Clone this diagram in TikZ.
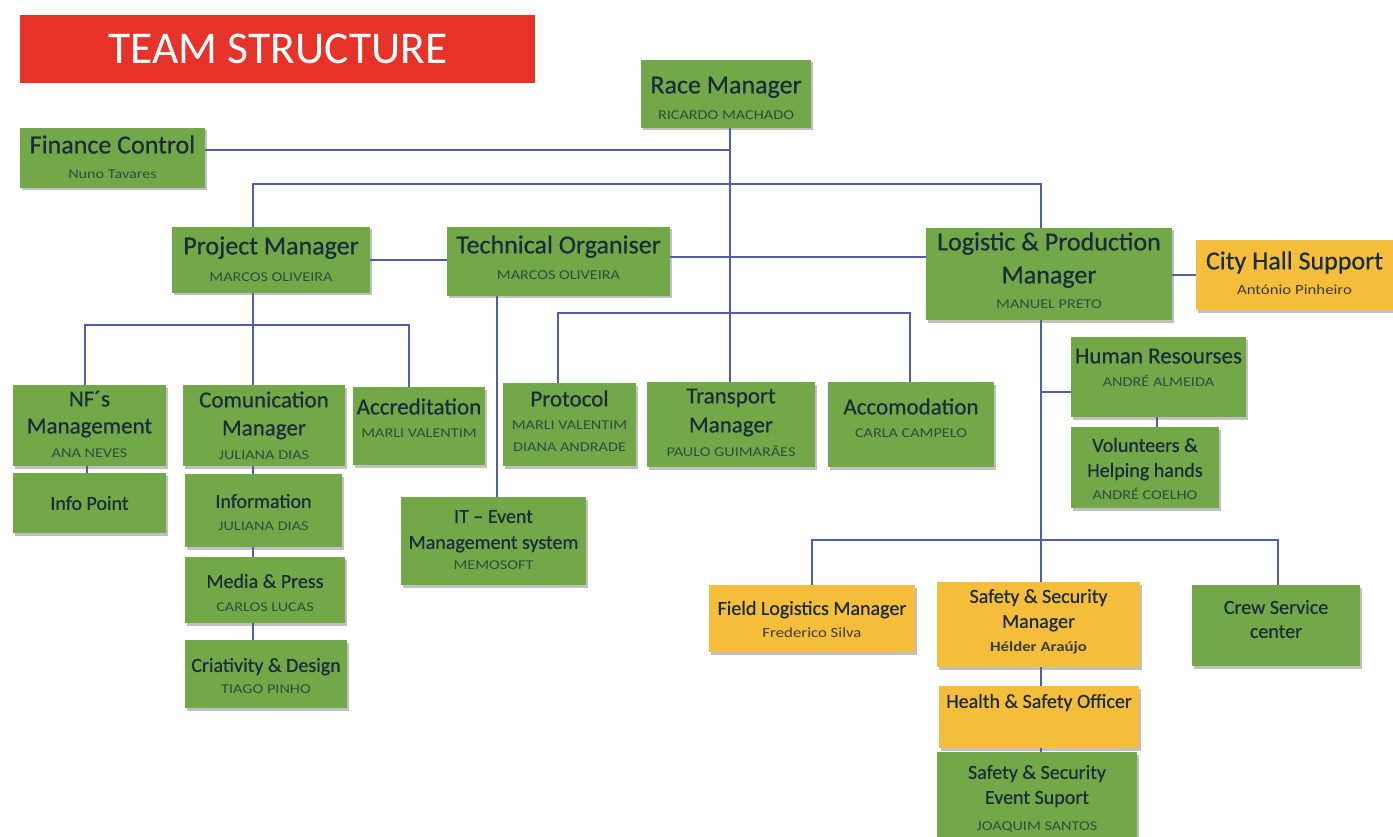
\documentclass[tikz,border=0pt]{standalone}
\usepackage{fontspec}
\setmainfont{Carlito}
\newfontfamily\titlefont[FakeBold=0.5]{Carlito}
\newfontfamily\namefont[FakeStretch=1.2]{Carlito}
\usetikzlibrary{shadows}
\definecolor{boxgreen}{RGB}{114,168,72}
\definecolor{boxorange}{RGB}{244,190,58}
\definecolor{titlered}{RGB}{230,50,40}
\definecolor{txtdark}{RGB}{26,44,60}
\definecolor{namec}{RGB}{50,76,66}
\definecolor{linec}{RGB}{82,92,178}
\newcommand\bx[6]{\node[#2, minimum width={(#5)-(#3)}, minimum height={(#6)-(#4)}] (#1) at ({((#3)+(#5))/2},{((#4)+(#6))/2}) {};}
\tikzset{
  boxbase/.style={rectangle, draw=none, inner sep=0pt,
    drop shadow={shadow xshift=2pt, shadow yshift=-2.5pt, opacity=0.35, fill=black!70}},
  gbox/.style={boxbase, fill=boxgreen},
  obox/.style={boxbase, fill=boxorange},
  tA/.style={font=\titlefont\fontsize{26}{30}\selectfont, text=txtdark, anchor=mid, inner sep=0pt, yshift=-4pt},
  tB/.style={font=\titlefont\fontsize{23}{27}\selectfont, text=txtdark, anchor=mid, inner sep=0pt, yshift=-4pt},
  tC/.style={font=\titlefont\fontsize{20}{23}\selectfont, text=txtdark, anchor=mid, inner sep=0pt, yshift=-3.5pt},
  nm/.style={font=\namefont\fontsize{13.5}{16}\selectfont, text=namec, anchor=mid, inner sep=0pt, yshift=-3pt},
  nmo/.style={font=\namefont\fontsize{14}{16}\selectfont, text=txtdark!80!brown, anchor=mid, inner sep=0pt, yshift=-3pt},
  conn/.style={draw=linec, line width=1.1pt},
}
\begin{document}
\begin{tikzpicture}[x=1pt,y=-1pt]
\fill[white] (0,0) rectangle (1393,837);
\useasboundingbox (0,0) rectangle (1393,837);

% title
\node[rectangle, fill=titlered, minimum width=515, minimum height=68, inner sep=0pt] (title) at (277.5,49) {};
\node[font=\fontsize{45.5}{50}\selectfont, text=white, inner sep=0pt] (titlet) at (278,49) {TEAM STRUCTURE};

% boxes
\bx{rm}{gbox}{641}{60}{811}{128}
\bx{fin}{gbox}{20}{128}{205}{188}
\bx{pm}{gbox}{172}{227}{370}{293}
\bx{to}{gbox}{447}{227}{670}{296}
\bx{lpm}{gbox}{926}{228}{1172}{320}
\bx{ch}{obox}{1196}{240}{1393}{310}
\bx{nf}{gbox}{13}{385}{166}{466}
\bx{ip}{gbox}{13}{473}{166}{533}
\bx{com}{gbox}{183}{385}{345}{466}
\bx{inf}{gbox}{185}{474}{342}{547}
\bx{mp}{gbox}{185}{557}{345}{623}
\bx{cd}{gbox}{185}{640}{347}{708}
\bx{acc}{gbox}{353}{387}{485}{465}
\bx{it}{gbox}{401}{497}{586}{585}
\bx{pro}{gbox}{503}{383}{636}{466}
\bx{tm}{gbox}{647}{382}{815}{467}
\bx{aco}{gbox}{828}{382}{994}{467}
\bx{hr}{gbox}{1071}{337}{1246}{417}
\bx{vol}{gbox}{1071}{427}{1219}{508}
\bx{fl}{obox}{709}{585}{915}{652}
\bx{ssm}{obox}{937}{582}{1140}{667}
\bx{hso}{obox}{939}{686}{1139}{748}
\bx{sse}{gbox}{937}{752}{1137}{837}
\bx{crew}{gbox}{1192}{585}{1360}{666}

% texts
\node[tA] (rm-a) at (726,87) {Race Manager};
\node[nm] (rm-b) at (726,114) {RICARDO MACHADO};
\node[tA] (fin-a) at (112.5,147) {Finance Control};
\node[nm] (fin-b) at (112.5,173) {Nuno Tavares};
\node[tA] (pm-a) at (271,248) {Project Manager};
\node[nm] (pm-b) at (271,276) {MARCOS OLIVEIRA};
\node[tA] (to-a) at (558.5,247) {Technical Organiser};
\node[nm] (to-b) at (558.5,274) {MARCOS OLIVEIRA};
\node[tA] (lpm-a) at (1049,244) {Logistic \& Production};
\node[tA] (lpm-b) at (1049,277) {Manager};
\node[nm] (lpm-c) at (1049,303) {MANUEL PRETO};
\node[tA] (ch-a) at (1294.5,263) {City Hall Support};
\node[nmo] (ch-b) at (1294.5,289) {António Pinheiro};

\node[tB] (nf-a) at (89.5,400) {NF´s};
\node[tB] (nf-b) at (89.5,427) {Management};
\node[nm] (nf-c) at (89.5,452) {ANA NEVES};
\node[tC] (ip-a) at (89.5,504) {Info Point};
\node[tB] (com-a) at (264,401) {Comunication};
\node[tB] (com-b) at (264,429) {Manager};
\node[nm] (com-c) at (264,454) {JULIANA DIAS};
\node[tC] (inf-a) at (263.5,502) {Information};
\node[nm] (inf-b) at (263.5,525) {JULIANA DIAS};
\node[tC] (mp-a) at (265,582) {Media \& Press};
\node[nm] (mp-b) at (265,606) {CARLOS LUCAS};
\node[tC] (cd-a) at (266,666) {Criativity \& Design};
\node[nm] (cd-b) at (266,688) {TIAGO PINHO};
\node[tB] (acc-a) at (419,408) {Accreditation};
\node[nm] (acc-b) at (419,432) {MARLI VALENTIM};
\node[tC] (it-a) at (493.5,517) {IT – Event};
\node[tC] (it-b) at (493.5,543) {Management system};
\node[nm] (it-c) at (493.5,564) {MEMOSOFT};
\node[tB] (pro-a) at (569.5,400) {Protocol};
\node[nm] (pro-b) at (569.5,424) {MARLI VALENTIM};
\node[nm] (pro-c) at (569.5,446) {DIANA ANDRADE};
\node[tB] (tm-a) at (731,397) {Transport};
\node[tB] (tm-b) at (731,426) {Manager};
\node[nm] (tm-c) at (731,451) {PAULO GUIMARÃES};
\node[tB] (aco-a) at (911,408) {Accomodation};
\node[nm] (aco-b) at (911,432) {CARLA CAMPELO};
\node[tB] (hr-a) at (1158.5,357) {Human Resourses};
\node[nm] (hr-b) at (1158.5,381) {ANDRÉ ALMEIDA};
\node[tC] (vol-a) at (1145,446) {Volunteers \&};
\node[tC] (vol-b) at (1145,471) {Helping hands};
\node[nm] (vol-c) at (1145,494) {ANDRÉ COELHO};
\node[tC] (fl-a) at (812,609) {Field Logistics Manager};
\node[nmo] (fl-b) at (812,632) {Frederico Silva};
\node[tC] (ssm-a) at (1038.5,597) {Safety \& Security};
\node[tC] (ssm-b) at (1038.5,622) {Manager};
\node[nmo, font=\namefont\bfseries\fontsize{14}{16}\selectfont] (ssm-c) at (1038.5,646) {Hélder Araújo};
\node[tC] (hso-a) at (1039,702) {Health \& Safety Officer};
\node[tC] (sse-a) at (1037,773) {Safety \& Security};
\node[tC] (sse-b) at (1037,798) {Event Suport};
\node[nm] (sse-c) at (1037,825) {JOAQUIM SANTOS};
\node[tC] (crew-a) at (1276,608) {Crew Service};
\node[tC] (crew-b) at (1276,632) {center};

% junction coordinates
\coordinate (jf) at (730,150);
\coordinate (j1) at (253,184);
\coordinate (j2) at (1041,184);
\coordinate (jp) at (253,325);
\coordinate (jl) at (1041,540);
\coordinate (jh) at (1041,392);

% connectors
\draw[conn] (fin.east |- jf) -- (jf);
\draw[conn] (rm.south -| jf) -- (tm.north -| jf);
\draw[conn] (pm.north -| j1) -- (j1) -- (j2) -- (lpm.north -| j2);
\draw[conn] (pm.east |- 0,260) -- (to.west |- 0,260);
\draw[conn] (to.east |- 0,257) -- (lpm.west |- 0,257);
\draw[conn] (lpm.east |- 0,275) -- (ch.west |- 0,275);
% project manager children
\draw[conn] (pm.south -| jp) -- (com.north -| jp);
\draw[conn] (nf.north -| 85,0) -- (85,325) -- (409,325) -- (acc.north -| 409,0);
\draw[conn] (nf.south -| 87,0) -- (ip.north -| 87,0);
\draw[conn] (com.south -| jp) -- (inf.north -| jp);
\draw[conn] (inf.south -| jp) -- (mp.north -| jp);
\draw[conn] (mp.south -| jp) -- (cd.north -| jp);
% technical organiser
\draw[conn] (to.south -| 497,0) -- (it.north -| 497,0);
% protocol / accomodation
\draw[conn] (pro.north -| 558,0) -- (558,313) -- (910,313) -- (aco.north -| 910,0);
% logistic
\draw[conn] (lpm.south -| jl) -- (jl);
\draw[conn] (jh) -- (hr.west |- jh);
\draw[conn] (hr.south -| 1157,0) -- (vol.north -| 1157,0);
\draw[conn] (fl.north -| 812,0) -- (812,540) -- (1278,540) -- (crew.north -| 1278,0);
\draw[conn] (jl) -- (ssm.north -| jl);
\draw[conn] (ssm.south -| jl) -- (hso.north -| jl);
\draw[conn] (hso.south -| jl) -- (sse.north -| jl);
\end{tikzpicture}
\end{document}
